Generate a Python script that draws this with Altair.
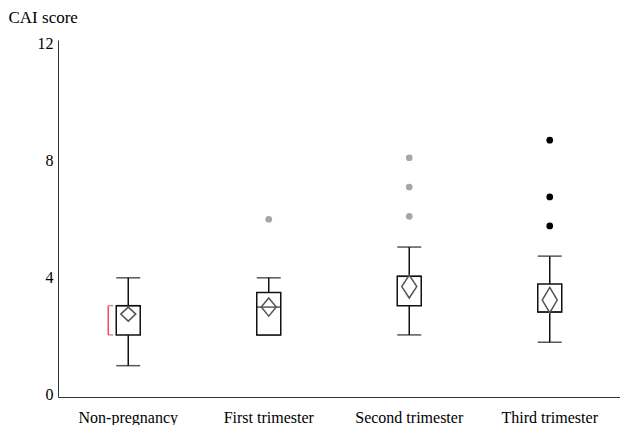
import altair as alt
import pandas as pd

cats = ["Non-pregnancy", "First trimester", "Second trimester", "Third trimester"]
mins = [1.0, 2.05, 2.05, 1.8]
q1s = [2.05, 2.05, 3.05, 2.83]
medians = [3.05, 3.0, 4.05, 2.83]
q3s = [3.05, 3.5, 4.05, 3.79]
maxs = [4.0, 4.0, 5.05, 4.74]
means = [2.76, 3.0, 3.7, 3.24]
mean_ci_half = [0.24, 0.31, 0.39, 0.43]

out_cats = ["First trimester", "Second trimester", "Second trimester", "Second trimester",
            "Third trimester", "Third trimester", "Third trimester"]
out_vals = [6.0, 6.1, 7.1, 8.1, 5.77, 6.76, 8.7]
out_colors = ["#a6a6a6", "#a6a6a6", "#a6a6a6", "#a6a6a6", "#000000", "#000000", "#000000"]

bracket_cat = ["Non-pregnancy"]
bracket_lo = [2.05]
bracket_hi = [3.05]

Y_DOMAIN = [-0.07, 12.12]
PLOT_H = 357
PX_PER_UNIT = PLOT_H / (Y_DOMAIN[1] - Y_DOMAIN[0])
DIAMOND_HALF = 13.0   # half-extent in px of the symbol's unit box
DIAMOND_HALF_W = 7.5  # px


def diamond_path(ci):
    hy = ci * PX_PER_UNIT / DIAMOND_HALF
    hx = DIAMOND_HALF_W / DIAMOND_HALF
    return f"M0,{-hy:.3f}L{hx:.3f},0L0,{hy:.3f}L{-hx:.3f},0Z"


box = pd.DataFrame({"cat": cats, "min": mins, "q1": q1s, "median": medians,
                    "q3": q3s, "max": maxs, "mean": means,
                    "shape": [diamond_path(c) for c in mean_ci_half]})
outl = pd.DataFrame({"cat": out_cats, "value": out_vals, "color": out_colors})
br = pd.DataFrame({"cat": bracket_cat, "lo": bracket_lo, "hi": bracket_hi})

FONT = "Liberation Serif"

x = alt.X("cat:N", sort=cats, title=None,
          scale=alt.Scale(paddingInner=0, paddingOuter=0),
          axis=alt.Axis(labelAngle=0, ticks=False, labelPadding=12, labelFontSize=16,
                        labelFont=FONT, labelColor="#000", domainColor="#333",
                        labelFontWeight="normal"))
yscale = alt.Scale(domain=Y_DOMAIN, nice=False, zero=False)
yaxis = alt.Axis(values=[0, 4, 8, 12], ticks=False, grid=False, labelPadding=5,
                 labelFontSize=16, labelFont=FONT, labelColor="#000", domainColor="#333",
                 title="CAI score", titleAngle=0, titleX=-50, titleY=-18,
                 titleAlign="left", titleBaseline="alphabetic", titleFont=FONT,
                 titleFontSize=17, titleFontWeight="normal", titleColor="#000")

base = alt.Chart(box)

whisk = base.mark_rule(color="#111", strokeWidth=1.5).encode(
    x=x, y=alt.Y("min:Q", scale=yscale, axis=yaxis), y2="max:Q")
caps_hi = base.mark_tick(color="#111", size=24, thickness=1.5).encode(
    x=x, y=alt.Y("max:Q", scale=yscale))
caps_lo = base.mark_tick(color="#111", size=24, thickness=1.5).encode(
    x=x, y=alt.Y("min:Q", scale=yscale))
boxes = base.mark_bar(size=24, fill="white", stroke="#111", strokeWidth=1.5).encode(
    x=x, y=alt.Y("q1:Q", scale=yscale), y2="q3:Q")
med = base.mark_tick(color="#111", size=24, thickness=1.5).encode(
    x=x, y=alt.Y("median:Q", scale=yscale))
diam = base.mark_point(size=(2 * DIAMOND_HALF) ** 2, filled=False,
                       stroke="#555", strokeWidth=1.5, opacity=1).encode(
    x=x, y=alt.Y("mean:Q", scale=yscale),
    shape=alt.Shape("shape:N", scale=None))
outs = alt.Chart(outl).mark_circle(size=45, opacity=1).encode(
    x=x, y=alt.Y("value:Q", scale=yscale),
    color=alt.Color("color:N", scale=None))
brk = alt.Chart(br).mark_rule(color="#e8506a", strokeWidth=1.5, xOffset=-20).encode(
    x=x, y=alt.Y("lo:Q", scale=yscale), y2="hi:Q")
brk_t1 = alt.Chart(br).mark_tick(color="#e8506a", size=5, thickness=1.5, xOffset=-17.5).encode(
    x=x, y=alt.Y("lo:Q", scale=yscale))
brk_t2 = alt.Chart(br).mark_tick(color="#e8506a", size=5, thickness=1.5, xOffset=-17.5).encode(
    x=x, y=alt.Y("hi:Q", scale=yscale))

chart = alt.layer(whisk, caps_hi, caps_lo, boxes, med, diam, outs, brk, brk_t1, brk_t2).properties(
    width=562, height=PLOT_H,
    autosize=alt.AutoSizeParams(type="none"),
    padding={"left": 50, "top": 32, "right": 0, "bottom": 28},
).configure_view(stroke=None).configure_axis(grid=False)

chart.save("out.html", embed_options={"renderer": "svg", "actions": False})
